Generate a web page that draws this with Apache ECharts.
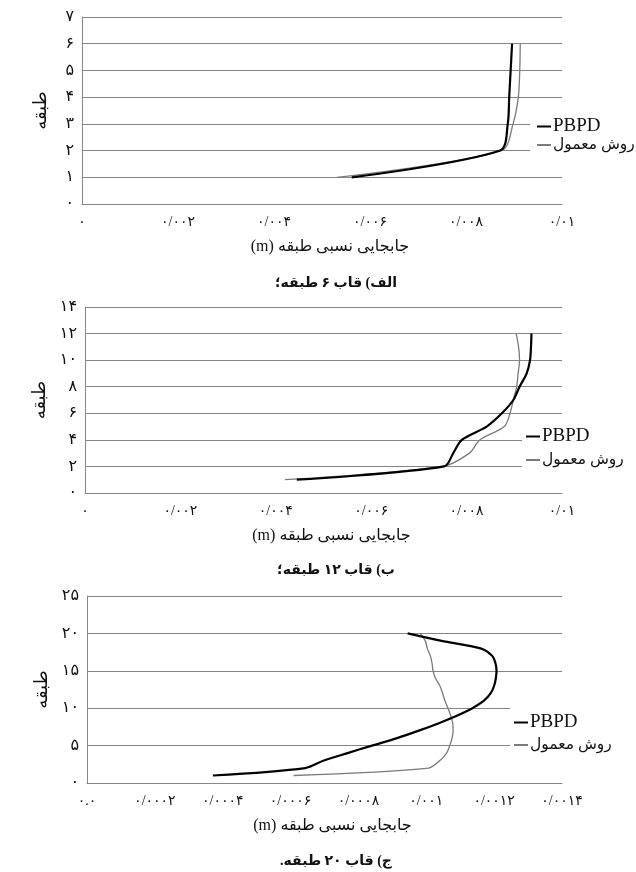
<!DOCTYPE html>
<html>
<head>
<meta charset="utf-8">
<script src="https://cdn.jsdelivr.net/npm/echarts@6/dist/echarts.min.js"></script>
<style>
  html, body { margin: 0; padding: 0; background: #fff; }
  #main { width: 636px; height: 872px; direction: rtl; }
</style>
</head>
<body>
<div id="main"></div>
<script>
// قاب ۶ طبقه
var floors6 = [1, 2, 3, 4, 5, 6];
var pbpd6 = [0.00562, 0.00871, 0.00887, 0.00890, 0.00893, 0.00896];
var conv6 = [0.00531, 0.00874, 0.00898, 0.00909, 0.00912, 0.00913];

// قاب ۱۲ طبقه
var floors12 = [1, 2, 3, 4, 5, 6, 7, 8, 9, 10, 11, 12];
var pbpd12 = [0.00444, 0.00753, 0.00772, 0.00790, 0.00842, 0.00874, 0.00898, 0.00911, 0.00926, 0.00933, 0.00935, 0.00936];
var conv12 = [0.00419, 0.00750, 0.00806, 0.00828, 0.00879, 0.00891, 0.00898, 0.00905, 0.00908, 0.00911, 0.00909, 0.00904];

// قاب ۲۰ طبقه
var floors20 = [1, 2, 3, 4, 5, 6, 7, 8, 9, 10, 11, 12, 13, 14, 15, 16, 17, 18, 19, 20];
var pbpd20 = [0.000371, 0.000643, 0.000698, 0.000768, 0.000840, 0.000914, 0.000978, 0.001037, 0.001090, 0.001136,
              0.001170, 0.001190, 0.001200, 0.001205, 0.001207, 0.001204, 0.001194, 0.001160, 0.001045, 0.000945];
var conv20 = [0.000609, 0.001007, 0.001040, 0.001060, 0.001069, 0.001076, 0.001079, 0.001078, 0.001072, 0.001064,
              0.001055, 0.001048, 0.001040, 0.001027, 0.001020, 0.001017, 0.001012, 0.001003, 0.000997, 0.000982];

// tick labels (persian digits)
var xLabels6 = ['۰', '۰/۰۰۲', '۰/۰۰۴', '۰/۰۰۶', '۰/۰۰۸', '۰/۰۱'];
var xLabels12 = ['۰', '۰/۰۰۲', '۰/۰۰۴', '۰/۰۰۶', '۰/۰۰۸', '۰/۰۱'];
var xLabels20 = ['۰.۰', '۰/۰۰۰۲', '۰/۰۰۰۴', '۰/۰۰۰۶', '۰/۰۰۰۸', '۰/۰۰۱', '۰/۰۰۱۲', '۰/۰۰۱۴'];

var seriesNames = ['PBPD', 'روش معمول'];
var captions = ['الف) قاب ۶ طبقه؛', 'ب) قاب ۱۲ طبقه؛', 'ج) قاب ۲۰ طبقه.'];
var xName = 'جابجایی نسبی طبقه (m)';
var yName = 'طبقه';

var FONT = '"Liberation Serif", "DejaVu Sans", serif';
var GRID_COLOR = '#868686';

function toFa(v) {
  return String(v).replace(/\d/g, function (d) { return '۰۱۲۳۴۵۶۷۸۹'[d]; });
}

function pairs(xs, ys) {
  return xs.map(function (x, i) { return [x, ys[i]]; });
}

var panels = [
  { grid: { left: 82, top: 17, width: 480, height: 187 }, xMax: 0.01, xInt: 0.002, yMax: 7, yInt: 1,
    labels: xLabels6, floors: floors6, pbpd: pbpd6, conv: conv6,
    legend: { left: 530, top: 113, padding: [4, 0, 4, 7], itemGap: 1 }, captionTop: 271 },
  { grid: { left: 85, top: 307, width: 477, height: 186 }, xMax: 0.01, xInt: 0.002, yMax: 14, yInt: 2,
    labels: xLabels12, floors: floors12, pbpd: pbpd12, conv: conv12,
    legend: { left: 522, top: 423, padding: [4, 0, 4, 4], itemGap: 6 }, captionTop: 558 },
  { grid: { left: 87, top: 596, width: 475, height: 187 }, xMax: 0.0014, xInt: 0.0002, yMax: 25, yInt: 5,
    labels: xLabels20, floors: floors20, pbpd: pbpd20, conv: conv20,
    legend: { left: 510, top: 705, padding: [8, 0, 4, 4], itemGap: 5 }, captionTop: 849 }
];

var option = {
  animation: false,
  backgroundColor: '#fff',
  grid: [], xAxis: [], yAxis: [], series: [], legend: [], title: []
};

panels.forEach(function (p, k) {
  option.grid.push(p.grid);
  option.xAxis.push({
    type: 'value', gridIndex: k, min: 0, max: p.xMax, interval: p.xInt,
    name: xName, nameLocation: 'middle', nameGap: 35,
    nameTextStyle: { fontFamily: FONT, fontSize: 16, color: '#111', padding: [0, 0, 0, 16] },
    axisLine: { show: true, lineStyle: { color: GRID_COLOR, width: 1 } },
    axisTick: { show: false },
    splitLine: { show: false },
    axisLabel: {
      margin: 11, color: '#111', fontSize: 14, fontFamily: FONT,
      formatter: (function (labels) { return function (v, i) { return labels[i]; }; })(p.labels)
    }
  });
  option.yAxis.push({
    type: 'value', gridIndex: k, min: 0, max: p.yMax, interval: p.yInt,
    name: yName, nameLocation: 'middle', nameGap: 32, nameRotate: 90,
    nameTextStyle: { fontFamily: FONT, fontSize: 18, color: '#111' },
    axisLine: { show: true, lineStyle: { color: GRID_COLOR, width: 1 } },
    axisTick: { show: false },
    splitLine: { show: true, lineStyle: { color: GRID_COLOR, width: 1 } },
    axisLabel: { margin: 8, color: '#111', fontSize: 16, fontFamily: FONT, formatter: function (v) { return toFa(v); } }
  });
  option.series.push({
    name: seriesNames[1], type: 'line', xAxisIndex: k, yAxisIndex: k,
    data: pairs(p.conv, p.floors), showSymbol: false, smooth: 0.3,
    lineStyle: { color: '#7a7a7a', width: 1.3 }, itemStyle: { color: '#7a7a7a' }
  });
  option.series.push({
    name: seriesNames[0], type: 'line', xAxisIndex: k, yAxisIndex: k,
    data: pairs(p.pbpd, p.floors), showSymbol: false, smooth: 0.3,
    lineStyle: { color: '#000', width: 2.2 }, itemStyle: { color: '#000' }
  });
  option.legend.push({
    orient: 'vertical', left: p.legend.left, top: p.legend.top, padding: p.legend.padding,
    itemGap: p.legend.itemGap, backgroundColor: '#fff', selectedMode: false,
    icon: 'rect', itemWidth: 14, itemHeight: 2,
    formatter: function (name) { return name === 'PBPD' ? '{en|' + name + '}' : '{fa|' + name + '}'; },
    textStyle: {
      color: '#111', padding: [0, 0, 0, -3],
      rich: {
        en: { fontFamily: FONT, fontSize: 19, color: '#111' },
        fa: { fontFamily: FONT, fontSize: 15.5, color: '#111' }
      }
    },
    data: seriesNames
  });
  option.title.push({
    text: captions[k], left: 331, top: p.captionTop, textAlign: 'center',
    textStyle: { fontFamily: FONT, fontSize: 14, fontWeight: 'bold', color: '#111' }
  });
});

var myChart = echarts.init(document.getElementById('main'));
myChart.setOption(option);
</script>
</body>
</html>
